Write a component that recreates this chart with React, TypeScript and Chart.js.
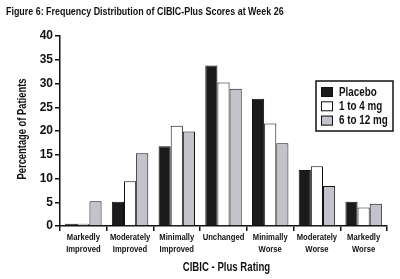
import React, { useEffect, useRef } from "react";
import { Chart, registerables } from "chart.js";

Chart.register(...registerables);

const categories: string[][] = [
  ["Markedly", "Improved"],
  ["Moderately", "Improved"],
  ["Minimally", "Improved"],
  ["Unchanged"],
  ["Minimally", "Worse"],
  ["Moderately", "Worse"],
  ["Markedly", "Worse"],
];
const placebo = [0.5, 5.1, 16.8, 33.8, 26.8, 11.8, 5.1];
const low = [0.5, 9.4, 21.1, 30.2, 21.6, 12.6, 3.9];
const high = [5.2, 15.3, 19.9, 28.9, 17.4, 8.4, 4.7];
const seriesNames = ["Placebo", "1 to 4 mg", "6 to 12 mg"];
const yTicks = [0, 5, 10, 15, 20, 25, 30, 35, 40];
const titleText = "Figure 6: Frequency Distribution of CIBIC-Plus Scores at Week 26";
const xTitle = "CIBIC - Plus Rating";
const yTitle = "Percentage of Patients";

const SANS = "'Liberation Sans', Arial, sans-serif";
const INK = "#111";

function narrowText(
  ctx: CanvasRenderingContext2D,
  text: string,
  x: number,
  y: number,
  size: number,
  sx: number,
  align: CanvasTextAlign,
  rotate = 0
) {
  ctx.save();
  ctx.translate(x, y);
  if (rotate) ctx.rotate(rotate);
  ctx.scale(sx, 1);
  ctx.font = `bold ${size}px ${SANS}`;
  ctx.fillStyle = INK;
  ctx.textAlign = align;
  ctx.textBaseline = "middle";
  ctx.fillText(text, 0, 0);
  ctx.restore();
}

const overlay = {
  id: "overlay",
  afterDraw(chart: any) {
    const ctx = chart.ctx as CanvasRenderingContext2D;
    const xs = chart.scales.x;
    const area = chart.chartArea;
    // title
    narrowText(ctx, titleText, 6, 12, 11, 0.81, "left");
    // x tick labels
    (chart.data.labels as string[][]).forEach((lines, i) => {
      const cx = xs.getPixelForValue(i);
      lines.forEach((ln, j) => {
        narrowText(ctx, ln, cx, area.bottom + 11.5 + j * 12.5, 9, 0.85, "center");
      });
    });
    // axis titles
    narrowText(ctx, xTitle, (area.left + area.right) / 2 + 3, 268, 12, 0.8, "center");
    narrowText(ctx, yTitle, 23, 129, 12, 0.78, "center", -Math.PI / 2);
    // legend box
    ctx.save();
    const bx = 316, by = 81, bw = 77, bh = 50;
    ctx.fillStyle = "#fff";
    ctx.fillRect(bx, by, bw, bh);
    ctx.strokeStyle = INK;
    ctx.lineWidth = 1.5;
    ctx.strokeRect(bx, by, bw, bh);
    chart.data.datasets.forEach((ds: any, i: number) => {
      const cy = by + 11 + i * 14.3;
      ctx.fillStyle = ds.backgroundColor;
      ctx.fillRect(321, cy - 5, 12, 10);
      ctx.lineWidth = 1;
      ctx.strokeStyle = INK;
      ctx.strokeRect(321.5, cy - 4.5, 11, 9);
      narrowText(ctx, ds.label, 339, cy + 0.5, 12, 0.82, "left");
    });
    ctx.restore();
  },
};

export default function App() {
  const ref = useRef<HTMLCanvasElement>(null);
  useEffect(() => {
    document.body.style.margin = "0";
    const mk = (label: string, data: number[], color: string) => ({
      label,
      data,
      backgroundColor: color,
      borderColor: INK,
      borderWidth: 1,
      categoryPercentage: 0.78,
      barPercentage: 1,
    });
    const chart = new Chart(ref.current!, {
      type: "bar",
      data: {
        labels: categories,
        datasets: [
          mk(seriesNames[0], placebo, "#1b1b1b"),
          mk(seriesNames[1], low, "#ffffff"),
          mk(seriesNames[2], high, "#c2c3cb"),
        ],
      },
      options: {
        responsive: false,
        animation: false,
        layout: { padding: { left: 0, top: 36, right: 13, bottom: 0 } },
        plugins: { legend: { display: false }, tooltip: { enabled: false } },
        scales: {
          x: {
            offset: true,
            border: { display: true, color: INK, width: 1.5 },
            grid: { display: true, offset: true, drawOnChartArea: false, tickLength: 5, color: INK, lineWidth: 1.5 },
            ticks: { display: false },
            afterFit: (s: any) => { s.height = 53; },
          },
          y: {
            min: 0,
            max: 40,
            border: { display: true, color: INK, width: 1.5 },
            grid: { display: true, drawOnChartArea: false, tickLength: 5, color: INK, lineWidth: 1.5 },
            afterBuildTicks: (s: any) => { s.ticks = yTicks.map((v) => ({ value: v })); },
            ticks: { color: INK, font: { family: SANS, size: 12, weight: "bold" }, padding: 2 },
            afterFit: (s: any) => { s.width = 60; },
          },
        },
      },
      plugins: [overlay],
    } as any);
    return () => chart.destroy();
  }, []);
  return (
    <div style={{ width: 400, height: 279, background: "#fff" }}>
      <canvas ref={ref} width={400} height={279} />
    </div>
  );
}
